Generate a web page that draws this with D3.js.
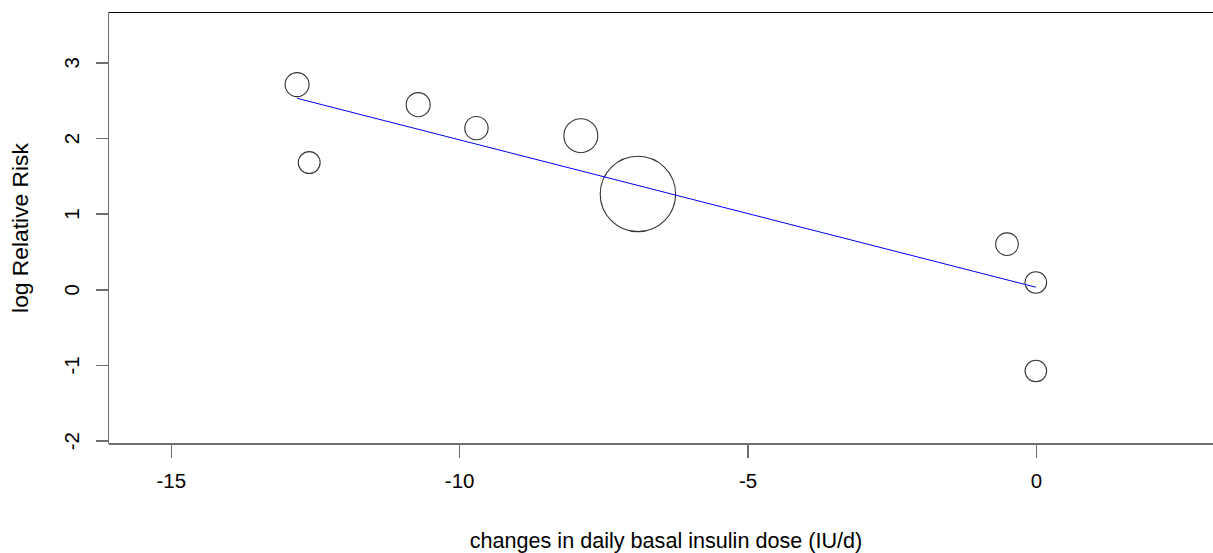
<!DOCTYPE html>
<html>
<head>
<meta charset="utf-8">
<script src="https://cdn.jsdelivr.net/npm/d3@7"></script>
<style>
  body { margin: 0; background: #fff; }
  text { font-family: "Liberation Sans", Arial, sans-serif; fill: #000; }
</style>
</head>
<body>
<div id="chart"></div>
<script>
// study-level points: change in basal dose vs log relative risk
var doseChange = [-12.81, -12.60, -10.71, -9.70, -7.89, -6.90, -0.50, 0.00, 0.00];
var logRR = [2.705, 1.675, 2.44, 2.13, 2.03, 1.26, 0.596, 0.09, -1.08];
// study weight (circle area)
var weights = [36, 30, 36, 34, 72, 355, 32, 29, 29];

// fitted meta-regression line end points
var fitX = [-12.81, 0.0];
var fitY = [2.524, 0.028];

var xTicks = [-15, -10, -5, 0];
var yTicks = [-2, -1, 0, 1, 2, 3];

var width = 1213, height = 553;

//plain hyphen for negatives, like R
var fmt = function(d) { return String(d); };

var svg = d3.select("#chart")
  .append("svg")
  .attr("width", width)
  .attr("height", height);

//scales
var xScale = d3.scaleLinear()
  .domain([-16.08, 3.54])
  .range([108.5, 1240]);

var yScale = d3.scaleLinear()
  .domain([-2.044, 3.658])
  .range([444, 12.5]);

var rScale = d3.scaleSqrt()
  .domain([0, d3.max(weights)])
  .range([0, 37.7]);

//frame: top line
svg.append("line")
  .attr("x1", xScale.range()[0]).attr("x2", xScale.range()[1])
  .attr("y1", 12.5).attr("y2", 12.5)
  .style("stroke", "#000")
  .style("stroke-width", 1);

//x axis
var xAxis = d3.axisBottom(xScale)
  .tickValues(xTicks)
  .tickSize(14)
  .tickPadding(15)
  .tickFormat(fmt);

var gx = svg.append("g")
  .attr("class", "x axis")
  .attr("transform", "translate(0," + 444 + ")")
  .call(xAxis);

gx.select(".domain").attr("d", "M" + xScale.range()[0] + ",0H" + xScale.range()[1]);

//y axis
var yAxis = d3.axisLeft(yScale)
  .tickValues(yTicks)
  .tickSize(13)
  .tickFormat(fmt);

var gy = svg.append("g")
  .attr("class", "y axis")
  .attr("transform", "translate(" + 108.5 + ",0)")
  .call(yAxis);

gy.select(".domain").attr("d", "M0,12.5V444");

svg.selectAll(".axis path, .axis line")
  .style("stroke", "#6e6e6e")
  .style("stroke-width", 1.5)
  .style("shape-rendering", "crispEdges");

gx.selectAll("text")
  .style("font-size", "20.5px")
  .style("fill", "#000");

//rotated y tick labels like R
gy.selectAll(".tick text")
  .attr("x", null)
  .attr("dy", null)
  .attr("text-anchor", "middle")
  .attr("transform", "translate(-30,0) rotate(-90)")
  .style("font-size", "20.5px")
  .style("fill", "#000");

//axis titles
svg.append("text")
  .attr("x", 666)
  .attr("y", 548)
  .attr("text-anchor", "middle")
  .style("font-size", "21.6px")
  .text("changes in daily basal insulin dose (IU/d)");

svg.append("text")
  .attr("transform", "translate(28," + 228 + ") rotate(-90)")
  .attr("text-anchor", "middle")
  .style("font-size", "22.8px")
  .text("log Relative Risk");

//points
var points = doseChange.map(function(d, i) {
  return { x: d, y: logRR[i], w: weights[i] };
});

svg.selectAll(".study")
  .data(points)
  .enter()
  .append("circle")
  .attr("class", "study")
  .attr("cx", function(d) { return xScale(d.x); })
  .attr("cy", function(d) { return yScale(d.y); })
  .attr("r", function(d) { return rScale(d.w); })
  .style("fill", "none")
  .style("stroke", "#333")
  .style("stroke-width", 1.1);

//regression line
svg.append("line")
  .attr("x1", xScale(fitX[0]))
  .attr("y1", yScale(fitY[0]))
  .attr("x2", xScale(fitX[1]))
  .attr("y2", yScale(fitY[1]))
  .style("stroke", "#0000ff")
  .style("stroke-width", 1);
</script>
</body>
</html>
